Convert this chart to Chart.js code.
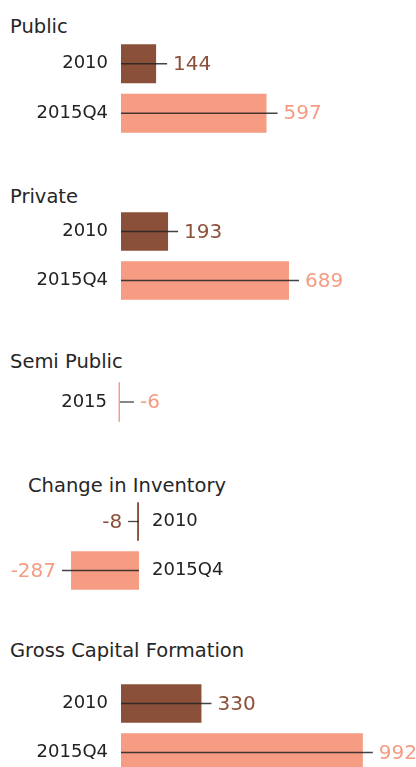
<!DOCTYPE html>
<html>
<head>
<meta charset="utf-8">
<script src="https://cdn.jsdelivr.net/npm/chart.js@4/dist/chart.umd.min.js"></script>
<style>
  body { margin: 0; width: 416px; height: 767px; overflow: hidden; background: #fff; position: relative; font-family: "DejaVu Sans", sans-serif; }
  .titulo { position: absolute; font-size: 19.5px; line-height: 19px; color: #262626; white-space: nowrap; }
  canvas { position: absolute; left: 0; }
</style>
</head>
<body>
<div class="titulo" id="t0" style="left:10px;top:17px"></div>
<div class="titulo" id="t1" style="left:10px;top:187px"></div>
<div class="titulo" id="t2" style="left:10px;top:352px"></div>
<div class="titulo" id="t3" style="left:28px;top:476px"></div>
<div class="titulo" id="t4" style="left:10px;top:641px"></div>

<canvas id="g0" width="416" height="99" style="top:39px"></canvas>
<canvas id="g1" width="416" height="98" style="top:207px"></canvas>
<canvas id="g2" width="416" height="50" style="top:377px"></canvas>
<canvas id="g3" width="416" height="98" style="top:497px"></canvas>
<canvas id="g4" width="416" height="98" style="top:679px"></canvas>

<script>
// titulos das secoes
const secoes = ['Public', 'Private', 'Semi Public', 'Change in Inventory', 'Gross Capital Formation'];

// dados por secao
const publicLabels = ['2010', '2015Q4'];
const publicValues = [144, 597];

const privateLabels = ['2010', '2015Q4'];
const privateValues = [193, 689];

const semiLabels = ['2015'];
const semiValues = [-6];

const inventoryLabels = ['2010', '2015Q4'];
const inventoryValues = [-8, -287];

const gcfLabels = ['2010', '2015Q4'];
const gcfValues = [330, 992];

const corAntiga = '#8b503a';  // 2010
const corNova = '#f59c82';    // 2015 / 2015Q4
const cor = lbl => lbl === '2010' ? corAntiga : corNova;

secoes.forEach((s, i) => { document.getElementById('t' + i).textContent = s; });

// linha guia + valor ao lado da barra
const guia = {
  id: 'guia',
  afterDatasetsDraw(chart, args, opts) {
    const ctx = chart.ctx;
    const labels = chart.data.labels;
    const valores = chart.data.datasets[0].data;
    chart.getDatasetMeta(0).data.forEach((bar, i) => {
      const dir = opts.lado === 'right' ? 1 : -1;
      const ponta = dir > 0 ? Math.max(bar.x, bar.base) : Math.min(bar.x, bar.base);
      const fim = ponta + dir * opts.ext;
      ctx.save();
      ctx.strokeStyle = 'rgba(35,35,35,0.85)';
      ctx.lineWidth = 1.3;
      ctx.beginPath();
      ctx.moveTo(bar.base, bar.y);
      ctx.lineTo(fim, bar.y);
      ctx.stroke();
      ctx.font = '20px "DejaVu Sans"';
      ctx.fillStyle = cor(labels[i]);
      ctx.textBaseline = 'middle';
      ctx.textAlign = dir > 0 ? 'left' : 'right';
      ctx.fillText(String(valores[i]), fim + dir * 6, bar.y + 1);
      ctx.restore();
    });
  }
};

function grafico(id, labels, values, cfg) {
  const ctx = document.getElementById(id).getContext('2d');
  return new Chart(ctx, {
    type: 'bar',
    data: {
      labels: labels,
      datasets: [{
        data: values,
        backgroundColor: labels.map(cor),
        barPercentage: 0.79,
        categoryPercentage: 1,
        clip: false
      }]
    },
    options: {
      indexAxis: 'y',
      responsive: false,
      animation: false,
      layout: { padding: 0 },
      plugins: {
        legend: { display: false },
        tooltip: { enabled: false },
        guia: { lado: cfg.lado, ext: cfg.ext }
      },
      scales: {
        x: { display: false, min: cfg.min, max: cfg.max },
        y: {
          position: cfg.eixo,
          grid: { display: false, drawTicks: false, tickLength: 0 },
          border: { display: false },
          ticks: { padding: 13, color: '#222', font: { family: 'DejaVu Sans', size: 18 } },
          afterFit: s => {
            s.width = cfg.largura;
            // sem folga vertical extra para os rotulos
            s.paddingTop = 0;
            s.paddingBottom = 0;
          }
        }
      }
    },
    plugins: [guia]
  });
}

grafico('g0', publicLabels, publicValues, { min: 0, max: 1210, eixo: 'left', largura: 121, lado: 'right', ext: 11 });
grafico('g1', privateLabels, privateValues, { min: 0, max: 1210, eixo: 'left', largura: 121, lado: 'right', ext: 10 });
grafico('g2', semiLabels, semiValues, { min: 0, max: 1210, eixo: 'left', largura: 120, lado: 'right', ext: 14 });
grafico('g3', inventoryLabels, inventoryValues, { min: -587, max: 0, eixo: 'right', largura: 277, lado: 'left', ext: 9 });
grafico('g4', gcfLabels, gcfValues, { min: 0, max: 1210, eixo: 'left', largura: 121, lado: 'right', ext: 10 });
</script>
</body>
</html>
